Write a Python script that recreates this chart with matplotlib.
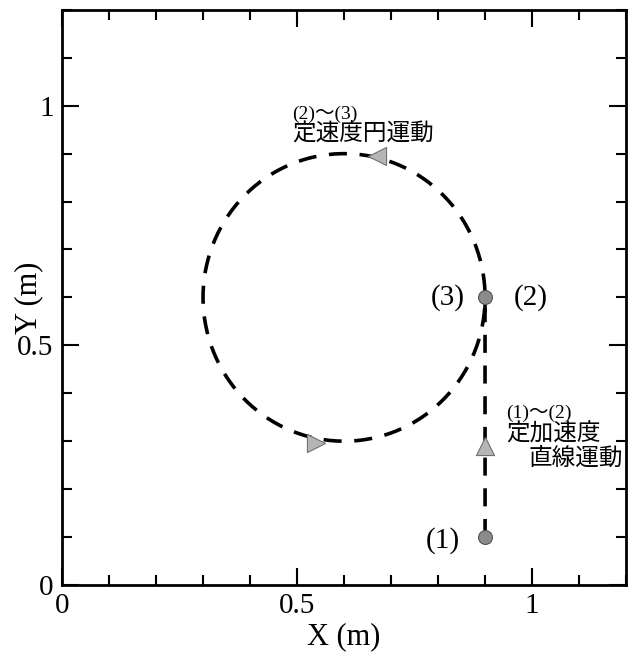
import matplotlib.pyplot as plt
import numpy as np
from matplotlib.ticker import MultipleLocator

plt.rcParams['font.family'] = ['Liberation Serif', 'Noto Sans CJK JP']

# trajectory: straight accelerating run, then uniform circular motion
line_x = [0.9, 0.9]
line_y = [0.1, 0.6]
circle_center = (0.6, 0.6)
circle_radius = 0.3

# labelled points
point_x = [0.9, 0.9]
point_y = [0.1, 0.6]

# direction markers
arrow_x = [0.9, 0.67, 0.54]
arrow_y = [0.29, 0.895, 0.297]
arrow_marker = ['^', '<', '>']

fig = plt.figure(figsize=(6.28, 6.58), dpi=100)
ax = fig.add_axes([0.0987, 0.111, 0.8983, 0.874])

theta = np.linspace(0, 2 * np.pi, 400)
cx = circle_center[0] + circle_radius * np.cos(theta)
cy = circle_center[1] + circle_radius * np.sin(theta)
path_x = np.concatenate([line_x, cx])
path_y = np.concatenate([line_y, cy])
ax.plot(path_x, path_y, color='black', lw=2.6, ls=(0, (5, 3.5)), zorder=2)

ax.scatter(point_x, point_y, s=100, color='#8a8a8a', edgecolor='#555555',
           lw=0.8, zorder=3)
for x, y, m in zip(arrow_x, arrow_y, arrow_marker):
    ax.scatter([x], [y], marker=m, s=170, color='#b5b5b5',
               edgecolor='#707070', lw=0.8, zorder=4)

ax.text(0.847, 0.093, '(1)', fontsize=21, ha='right', va='center')
ax.text(0.857, 0.6, '(3)', fontsize=21, ha='right', va='center')
ax.text(0.96, 0.6, '(2)', fontsize=21, ha='left', va='center')

# motion annotations
ax.text(0.49, 1.0, '(2)～(3)', fontsize=14, ha='left', va='top')
ax.text(0.49, 0.963, '定速度円運動', fontsize=17, ha='left', va='top')
ax.text(0.945, 0.377, '(1)～(2)', fontsize=14, ha='left', va='top')
ax.text(0.945, 0.338, '定加速度', fontsize=17, ha='left', va='top')
ax.text(0.992, 0.288, '直線運動', fontsize=17, ha='left', va='top')

ax.set_xlim(0, 1.2)
ax.set_ylim(0, 1.2)
ax.xaxis.set_major_locator(MultipleLocator(0.5))
ax.yaxis.set_major_locator(MultipleLocator(0.5))
ax.xaxis.set_minor_locator(MultipleLocator(0.1))
ax.yaxis.set_minor_locator(MultipleLocator(0.1))
ax.xaxis.set_major_formatter(plt.FuncFormatter(lambda v, p: f'{v:g}'))
ax.yaxis.set_major_formatter(plt.FuncFormatter(lambda v, p: f'{v:g}'))
ax.tick_params(which='both', direction='in', top=True, right=True,
               labelsize=21, width=1.5, pad=6)
ax.tick_params(which='major', length=12)
ax.tick_params(which='minor', length=7)
for s in ax.spines.values():
    s.set_linewidth(2)

ax.set_xlabel('X (m)', fontsize=22, labelpad=2)
ax.set_ylabel('Y (m)', fontsize=22)
ax.yaxis.set_label_coords(-0.033, 0.5)

fig.savefig('out.png', dpi=100)
